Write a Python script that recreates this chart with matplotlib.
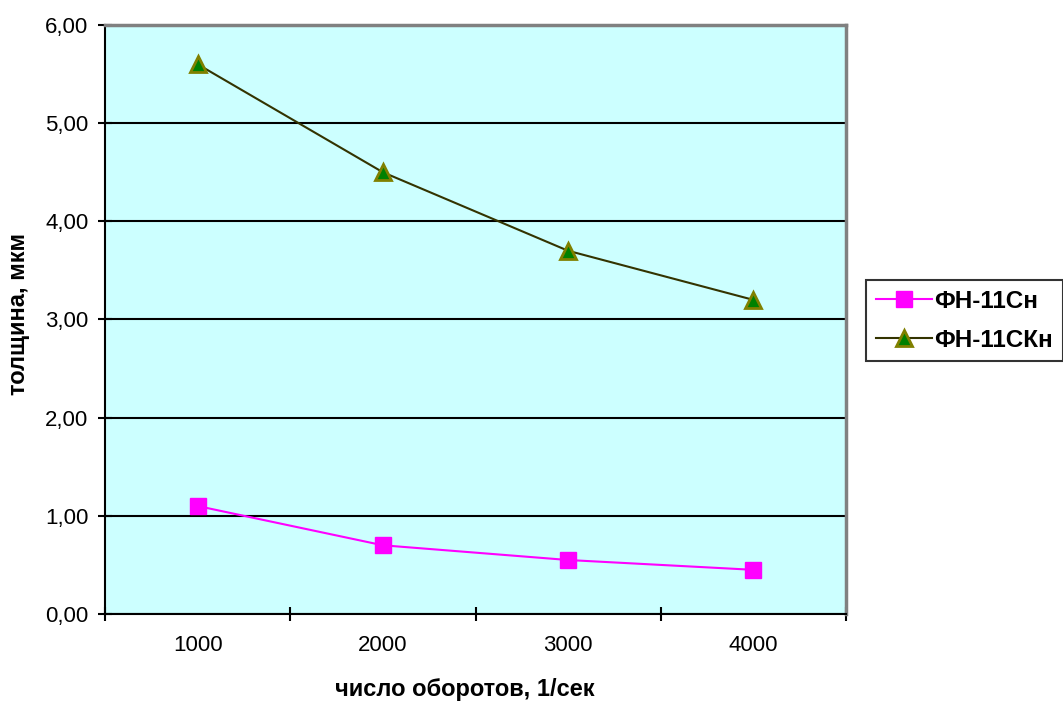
import matplotlib
matplotlib.use("Agg")
from matplotlib import pyplot as plt
import numpy as np

# data
categories = ["1000", "2000", "3000", "4000"]
fn_11sn = [1.10, 0.70, 0.55, 0.45]
fn_11skn = [5.60, 4.50, 3.70, 3.20]
y_ticks = [0, 1, 2, 3, 4, 5, 6]
y_labels = ["0,00", "1,00", "2,00", "3,00", "4,00", "5,00", "6,00"]

plt.rcParams['font.family'] = ['Liberation Sans', 'DejaVu Sans']

fig = plt.figure(figsize=(10.63, 7.02), dpi=100)
ax = fig.add_axes([105/1063., 88/702., 741/1063., 589/702.])
ax.set_facecolor('#CCFFFF')

x = np.arange(len(categories))
ax.plot(x, fn_11sn, '-', color='#FF00FF', lw=1.5, marker='s', markersize=11,
        markerfacecolor='#FF00FF', markeredgecolor='#FF00FF', label='ФН-11Сн', zorder=3)
ax.plot(x, fn_11skn, '-', color='#333300', lw=1.5, marker='^', markersize=12,
        markerfacecolor='#008000', markeredgecolor='#808000', markeredgewidth=2,
        label='ФН-11СКн', zorder=3)

ax.set_xlim(-0.5, len(categories) - 0.5)
ax.set_ylim(0, 6)
ax.set_yticks(y_ticks)
ax.set_yticklabels(y_labels, fontsize=16)
ax.yaxis.grid(True, color='black', lw=1.5)
ax.set_axisbelow(True)

# category ticks between categories, labels at centers
ax.set_xticks(np.arange(-0.5, len(categories), 1.0))
ax.set_xticklabels([])
ax.set_xticks(x, minor=True)
ax.set_xticklabels(categories, minor=True, fontsize=16)
ax.tick_params(axis='x', which='minor', length=0, pad=15)
ax.tick_params(axis='both', which='major', direction='inout', length=10, width=1.5)
ax.tick_params(axis='y', pad=7)

for side in ['left', 'bottom']:
    ax.spines[side].set_color('black')
    ax.spines[side].set_linewidth(1.5)
for side in ['top', 'right']:
    ax.spines[side].set_color('#808080')
    ax.spines[side].set_linewidth(2.5)

ax.set_xlabel('число оборотов, 1/сек', fontsize=17, fontweight='bold', va='center')
ax.xaxis.set_label_coords(0.486, -0.129)
ax.set_ylabel('толщина, мкм', fontsize=17, fontweight='bold', va='center')
ax.yaxis.set_label_coords(-0.117, 0.509)

leg = fig.legend(loc='upper left', bbox_to_anchor=(866/1063., 1 - 280/702.),
                 prop={'weight': 'bold', 'size': 17.5}, frameon=True, fancybox=False,
                 edgecolor='black', handlelength=2.3, borderpad=0.4, labelspacing=0.65,
                 handletextpad=0.1, borderaxespad=0)
leg.get_frame().set_linewidth(1.5)

plt.savefig('out.png', dpi=100)
plt.close()
